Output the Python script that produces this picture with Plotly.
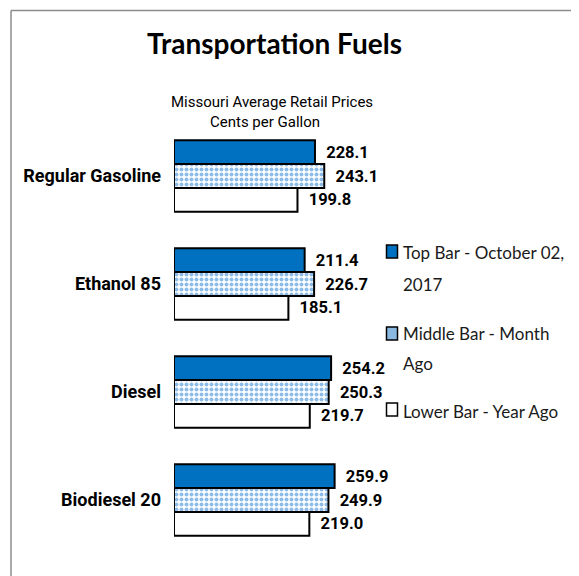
import plotly.graph_objects as go

categories = ["Regular Gasoline", "Ethanol 85", "Diesel", "Biodiesel 20"]
current = [228.1, 211.4, 254.2, 259.9]
month_ago = [243.1, 226.7, 250.3, 249.9]
year_ago = [199.8, 185.1, 219.7, 219.0]
series_names = ["Top Bar - October 02, 2017", "Middle Bar - Month Ago", "Lower Bar - Year Ago"]
legend_lines = [["Top Bar - October 02,", "2017"], ["Middle Bar - Month", "Ago"], ["Lower Bar - Year Ago"]]

# page body has an 8px margin; figure fills the rest of the window
OFF = 8
W, H = 579 - OFF, 576 - OFF


def px(x):
    return (x - OFF) / W


def py(y):
    return 1 - (y - OFF) / H


ARIALN = "Roboto, Liberation Sans, Arial, sans-serif"
CALIBRI = "Lato, Carlito, Calibri, sans-serif"
BLUE = "#0070C0"

fig = go.Figure()
label_font = dict(family=ARIALN, size=16.5, color="black", weight="bold")
common = dict(orientation="h", y=categories, texttemplate="&nbsp;&nbsp;%{x:.1f}",
              textposition="outside", textfont=label_font, cliponaxis=False, showlegend=False)

fig.add_trace(go.Bar(x=current, name=series_names[0],
                     marker=dict(color=BLUE, line=dict(color="black", width=2)), **common))
fig.add_trace(go.Bar(x=month_ago, name=series_names[1],
                     marker=dict(color="white", line=dict(color="black", width=2),
                                 pattern=dict(shape=".", fgcolor="#1a7ad0", bgcolor="white",
                                              size=5, solidity=0.5)), **common))
fig.add_trace(go.Bar(x=year_ago, name=series_names[2],
                     marker=dict(color="white", line=dict(color="black", width=2)), **common))

border = "#8c8c8c"
annotations = [
    dict(text="<b>Transportation Fuels</b>", x=px(274), y=py(43),
         xanchor="center", yanchor="middle", font=dict(family=CALIBRI, size=28, color="black")),
    dict(text="Missouri Average Retail Prices", x=px(271.5), y=py(102),
         xanchor="center", yanchor="middle", font=dict(family=ARIALN, size=15, color="black")),
    dict(text="Cents per Gallon", x=px(264.5), y=py(121.5),
         xanchor="center", yanchor="middle", font=dict(family=ARIALN, size=15, color="black")),
]
legend_y = [[252, 283], [332, 362], [410]]
for lines, ys in zip(legend_lines, legend_y):
    for t, yy in zip(lines, ys):
        annotations.append(dict(text=t, x=px(401), y=py(yy + 1), xanchor="left", yanchor="middle",
                                font=dict(family=CALIBRI, size=17, color="#1a1a1a")))
for a in annotations:
    a.update(xref="paper", yref="paper", showarrow=False)

marker_y = [245, 327, 403]
marker_fill = [BLUE, "#8ab8e0", "white"]
shapes = [
    dict(type="line", xref="paper", yref="paper", x0=px(11), x1=1, y0=py(10.5), y1=py(10.5),
         line=dict(color=border, width=1.5)),
    dict(type="line", xref="paper", yref="paper", x0=px(11), x1=px(11), y0=0, y1=py(10.5),
         line=dict(color=border, width=1.5)),
]
for my, mf in zip(marker_y, marker_fill):
    shapes.append(dict(type="rect", xref="paper", yref="paper", x0=px(386.5), x1=px(397.5),
                       y0=py(my), y1=py(my + 13), fillcolor=mf, line=dict(color="black", width=1.5)))

fig.update_layout(
    width=W, height=H,
    margin=dict(l=0, r=0, t=0, b=0, autoexpand=False),
    paper_bgcolor="white", plot_bgcolor="white",
    barmode="group", bargap=0.34, bargroupgap=0,
    xaxis=dict(domain=[px(174), px(174 + 300 * 0.618)], range=[0, 300], visible=False),
    yaxis=dict(domain=[py(554), py(122)], autorange="reversed", automargin=False,
               tickfont=dict(family=ARIALN, size=18, color="black", weight="bold"),
               showline=False, showgrid=False, zeroline=False, ticks="", ticklabelstandoff=12),
    showlegend=False,
    annotations=annotations,
    shapes=shapes,
)

fig.write_html("out.html")
